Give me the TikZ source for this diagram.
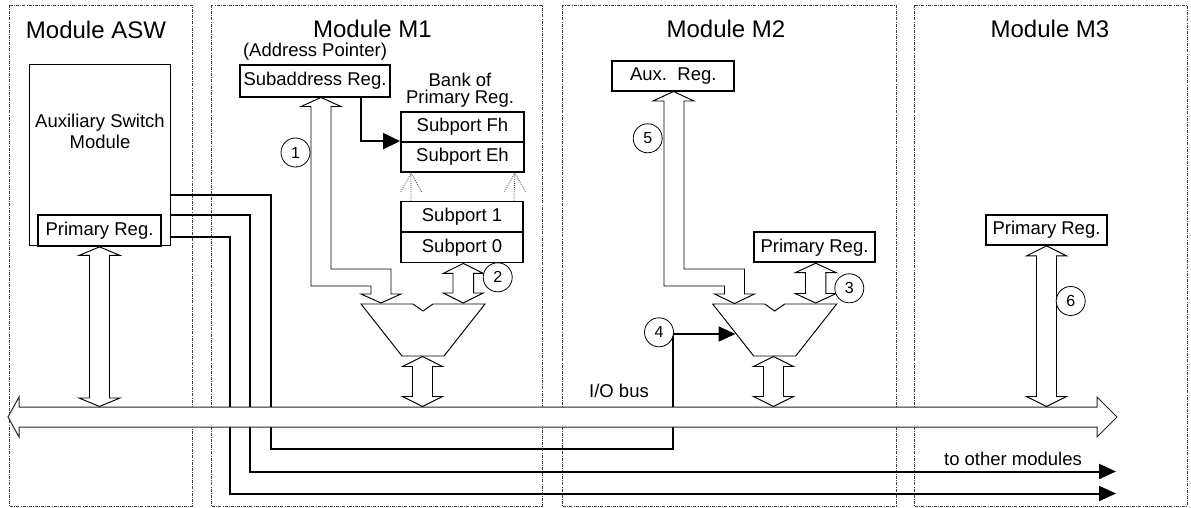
\documentclass[tikz,border=0pt]{standalone}
\usepackage{fontspec}
\setmainfont{Liberation Sans}
\usetikzlibrary{arrows.meta,calc}
\newcommand\ttlfnt{\fontsize{24}{27}\selectfont}
\newcommand\regfnt{\fontsize{18.5}{21}\selectfont}
\newcommand\numfnt{\fontsize{16}{16}\selectfont}
% vertical hollow double arrow: #1 top point, #2 bottom reference, #3 shaft half width, #4 head half width, #5 head length
\newcommand\VArr[5]{%
  \draw[hollowarr] let \p1=(#1), \p2=(#2) in
    (\x1,\y1) -- ++(#4,#5) -- ++({#3-#4},0)
    -- ($(\x1,\y2)+(#3,-#5)$) -- ++({#4-#3},0) -- (\x1,\y2)
    -- ++(-#4,-#5) -- ++({#4-#3},0)
    -- ($(\x1,\y1)+(-#3,#5)$) -- ++({#3-#4},0) -- cycle;}
\begin{document}
\begin{tikzpicture}[x=1pt,y=-1pt,
  modframe/.style={draw=black!75,line width=0.6pt,dash pattern=on 3pt off 1.2pt on 0.8pt off 1.2pt},
  regbox/.style={draw,line width=1.8pt,inner sep=0pt,fill=white,font=\regfnt},
  hollowarr/.style={draw=black,line width=0.95pt,fill=white,line join=miter},
  wire/.style={line width=2pt,line join=miter},
  endtip/.style={-{Triangle[length=17pt,width=15pt]}},
  num/.style={circle,draw,line width=0.8pt,fill=white,minimum size=29pt,inner sep=0pt,font=\numfnt},
  dotline/.style={draw=black!85,line width=0.75pt,dash pattern=on 0.8pt off 1.3pt},
  lbl/.style={font=\regfnt,inner sep=0pt},
  ttlnode/.style={font=\ttlfnt,inner sep=0pt,anchor=base}]
\useasboundingbox (0,0) rectangle (1191,508);

% module frames
\draw[modframe] (9,5) rectangle (192,506);
\draw[modframe] (211,5) rectangle (542,506);
\draw[modframe] (562,5) rectangle (896,506);
\draw[modframe] (914,5) rectangle (1187,506);

% titles
\node[ttlnode] (tA) at (96,39) {Module ASW};
\node[ttlnode] (t1) at (372.5,38) {Module M1};
\node[ttlnode] (t2) at (726,38) {Module M2};
\node[ttlnode] (t3) at (1050,38) {Module M3};

% ASW
\node[draw,line width=0.9pt,minimum width=141pt,minimum height=181pt,inner sep=0pt] (auxsw) at (99.5,154.5) {};
\node[lbl,align=center] (auxtxt) at (100,131) {Auxiliary Switch\\Module};
\node[regbox,minimum width=123pt,minimum height=31pt] (prA) at (99.5,230.5) {Primary Reg.};

% coordinates
\coordinate (m2in) at (735.5,334);
\coordinate (endA) at (1116,471.5);
\coordinate (endB) at (1116,493.5);
\coordinate (bustop) at (0,406.5);
\coordinate (mux1top) at (0,303);
\coordinate (mux2top) at (0,303);
\coordinate (mux1bot) at (422.5,356.5);
\coordinate (mux2bot) at (773.5,356.5);

% wires
\draw[wire,endtip] ($(auxsw.north east)+(0,131)$) -| (271,449) -| (673,334) -- (m2in);
\draw[wire,endtip] ($(auxsw.north east)+(0,151)$) -| (250,471.5) -- (endA);
\draw[wire,endtip] ($(auxsw.north east)+(0,173)$) -| (230,493.5) -- (endB);

% I/O bus
\draw[draw=black!85,line width=1pt,fill=white,line join=miter] (8,417) -- (19,397) -- (19,407) -- (1097,407) -- (1097,397) -- (1117,417) -- (1097,437) -- (1097,427) -- (19,427) -- (19,437) -- cycle;
\node[lbl] (iobus) at (619,391) {I/O bus};
\node[lbl] (other) at (1013,459) {to other modules};

\VArr{prA.south}{bustop}{10}{20.5}{8.5}

% Module M1
\node[lbl,anchor=base] (addrp) at (315,56.7) {(Address Pointer)};
\node[regbox,minimum width=150pt,minimum height=32pt] (subaddr) at (315,81) {Subaddress Reg.};
\node[lbl,align=center,font=\fontsize{18.5}{16.5}\selectfont] (bank) at (460,90) {Bank of\\Primary Reg.};
\node[regbox,minimum width=123pt,minimum height=30pt] (spFh) at (462.5,127) {Subport Fh};
\node[regbox,minimum width=123pt,minimum height=30pt] (spEh) at (462.5,157) {Subport Eh};
\node[regbox,minimum width=122pt,minimum height=30.5pt] (sp1) at (462,216.75) {Subport 1};
\node[regbox,minimum width=122pt,minimum height=30.5pt] (sp0) at (462,247.25) {Subport 0};

\draw[wire,-{Triangle[length=17pt,width=16pt]}] ($(subaddr.south west)+(122,0)$) |- (spEh.north west);

\draw[dotline] ($(sp1.north west)+(11,0)$) -- ($(spEh.south west)+(11,0)$) coordinate (d1t) -- ++(-11,20) (d1t) -- ++(11,20);
\draw[dotline] ($(sp1.north east)+(-10,0)$) -- ($(spEh.south east)+(-10,0)$) coordinate (d2t) -- ++(-11,20) (d2t) -- ++(11,20);

\draw[hollowarr] (361,304) -- (413,304) -- (423,311) -- (433,304) -- (485,304) -- (444,356) -- (402,356) -- cycle;
\draw[hollowarr] (321,97.5) -- (341,106.5) -- (331,106.5) -- (331,269) -- (391,269) -- (391,294) -- (401,294) -- (381,303) -- (361,294) -- (371,294) -- (371,286) -- (311,286) -- (311,106.5) -- (301,106.5) -- cycle;
\node[num] (n1) at (295.5,152.5) {1};

\VArr{$(sp0.south)+(1.3,0)$}{mux1top}{10.3}{20}{10}
\node[num] (n2) at (497.7,277.3) {2};
\VArr{mux1bot}{bustop}{10}{20}{10}

% Module M2
\node[regbox,minimum width=122pt,minimum height=30pt] (auxreg) at (673.3,76) {Aux.\ \ Reg.};
\draw[hollowarr] (673.5,91.5) -- (694,101) -- (684,101) -- (684,269) -- (744.5,269) -- (744.5,294) -- (754.5,294) -- (734.5,303.5) -- (714.5,294) -- (724.5,294) -- (724.5,286) -- (664,286) -- (664,101) -- (653,101) -- cycle;
\node[num] (n5) at (647.7,138.3) {5};

\node[regbox,minimum width=121pt,minimum height=30pt] (pr2) at (814.5,247.3) {Primary Reg.};
\draw[hollowarr] (712.7,304) -- (764.7,304) -- (774.7,311) -- (784.7,304) -- (836.7,304) -- (795.7,356) -- (753.7,356) -- cycle;
\VArr{$(pr2.south)+(1.2,0)$}{mux2top}{10.2}{20.5}{9.5}
\node[num] (n3) at (849.3,288.3) {3};
\VArr{mux2bot}{bustop}{10}{20}{10}
\node[num] (n4) at (659,332.3) {4};

% Module M3
\node[regbox,minimum width=121pt,minimum height=30pt] (pr3) at (1046.5,230) {Primary Reg.};
\VArr{pr3.south}{bustop}{10}{20}{10}
\node[num] (n6) at (1070.7,301) {6};
\end{tikzpicture}
\end{document}
